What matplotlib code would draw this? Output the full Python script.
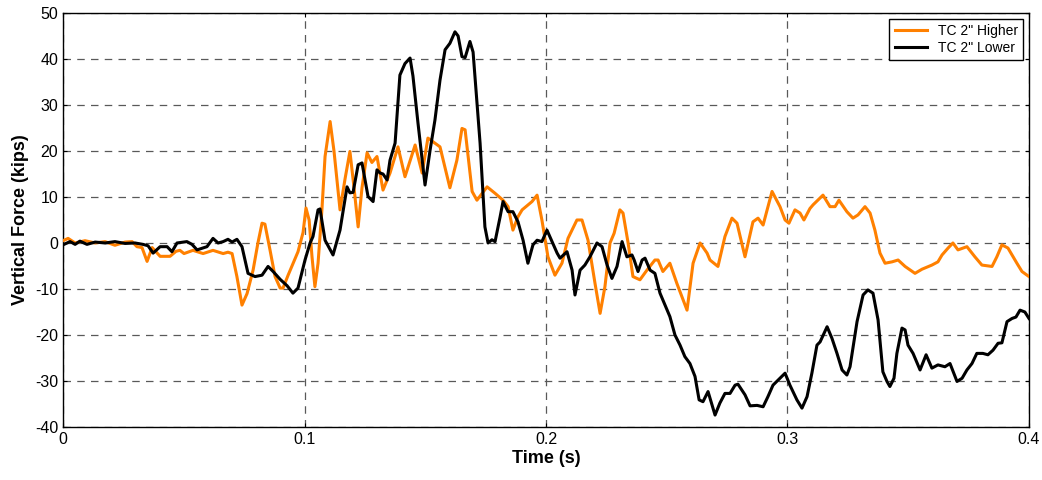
import matplotlib

matplotlib.use("Agg")
import matplotlib.pyplot as plt
import numpy as np

plt.rcParams["font.family"] = ["Liberation Sans", "DejaVu Sans"]
plt.rcParams["axes.unicode_minus"] = False

# TC 2" Higher (orange) — time (s), vertical force (kips)
t_high = [0.0000, 0.0021, 0.0050, 0.0091, 0.0133, 0.0174, 0.0215, 0.0257, 0.0286, 0.0306,
          0.0327, 0.0348, 0.0369, 0.0402, 0.0443, 0.0468, 0.0484, 0.0501, 0.0538, 0.0580,
          0.0621, 0.0663, 0.0683, 0.0700, 0.0720, 0.0741, 0.0762, 0.0787, 0.0807, 0.0824,
          0.0836, 0.0857, 0.0878, 0.0899, 0.0911, 0.0932, 0.0973, 0.0994, 0.1006, 0.1019,
          0.1031, 0.1043, 0.1056, 0.1072, 0.1085, 0.1106, 0.1122, 0.1147, 0.1168, 0.1188,
          0.1205, 0.1222, 0.1238, 0.1259, 0.1279, 0.1300, 0.1325, 0.1354, 0.1387, 0.1416,
          0.1458, 0.1487, 0.1511, 0.1561, 0.1602, 0.1631, 0.1652, 0.1665, 0.1694, 0.1714,
          0.1756, 0.1789, 0.1822, 0.1843, 0.1863, 0.1884, 0.1901, 0.1942, 0.1963, 0.1983,
          0.2008, 0.2037, 0.2066, 0.2091, 0.2128, 0.2149, 0.2174, 0.2203, 0.2224, 0.2244,
          0.2265, 0.2282, 0.2306, 0.2319, 0.2340, 0.2360, 0.2389, 0.2418, 0.2451, 0.2464,
          0.2484, 0.2513, 0.2542, 0.2584, 0.2609, 0.2638, 0.2667, 0.2679, 0.2712, 0.2741,
          0.2770, 0.2791, 0.2824, 0.2857, 0.2878, 0.2899, 0.2936, 0.2969, 0.2990, 0.3006,
          0.3031, 0.3052, 0.3068, 0.3093, 0.3106, 0.3147, 0.3176, 0.3197, 0.3213, 0.3246,
          0.3271, 0.3292, 0.3321, 0.3342, 0.3362, 0.3383, 0.3404, 0.3433, 0.3458, 0.3487,
          0.3528, 0.3557, 0.3598, 0.3623, 0.3640, 0.3665, 0.3685, 0.3706, 0.3743, 0.3776,
          0.3805, 0.3847, 0.3867, 0.3888, 0.3913, 0.3950, 0.3971, 0.4000]
f_high = [0.5, 1.0, 0.0, 0.5, 0.0, 0.3, -0.5, 0.2, 0.3, -0.8,
          -1.0, -4.0, -1.0, -2.9, -2.9, -1.8, -1.6, -2.3, -1.6, -2.3,
          -1.6, -2.3, -2.0, -2.3, -7.3, -13.5, -11.0, -5.9, 0.0, 4.3,
          4.1, -1.5, -7.3, -9.8, -9.8, -7.0, -1.9, 2.3, 7.6, 5.0,
          -3.0, -9.5, -4.4, 7.2, 18.8, 26.4, 20.0, 7.2, 14.0, 19.9,
          12.0, 3.5, 12.0, 19.6, 17.5, 18.8, 11.5, 15.2, 20.9, 14.4,
          21.3, 15.2, 22.8, 20.9, 12.0, 18.0, 24.9, 24.6, 11.2, 9.3,
          12.2, 10.8, 9.3, 7.9, 2.8, 5.7, 7.2, 9.0, 10.4, 5.0,
          -3.0, -7.0, -4.4, 1.0, 5.0, 5.0, 0.6, -8.8, -15.3, -9.5,
          0.0, 2.1, 7.2, 6.5, 0.0, -7.3, -8.0, -5.9, -3.7, -3.7,
          -6.2, -4.4, -8.8, -14.6, -4.4, 0.0, -2.2, -3.7, -5.1, 1.4,
          5.4, 4.3, -3.0, 4.6, 5.4, 3.9, 11.2, 7.9, 5.0, 4.3,
          7.2, 6.5, 5.0, 7.5, 8.3, 10.4, 7.9, 7.9, 9.3, 6.8,
          5.4, 6.1, 7.9, 6.5, 2.8, -2.2, -4.4, -4.1, -3.7, -5.1,
          -6.6, -5.7, -4.8, -4.1, -2.6, -1.1, 0.0, -1.5, -0.8, -3.0,
          -4.8, -5.1, -3.0, -0.4, -1.1, -4.4, -6.2, -7.3]

# TC 2" Lower (black)
t_low = [0.0000, 0.0029, 0.0050, 0.0070, 0.0099, 0.0133, 0.0174, 0.0215, 0.0257, 0.0298,
         0.0331, 0.0352, 0.0373, 0.0402, 0.0431, 0.0451, 0.0472, 0.0513, 0.0534, 0.0555,
         0.0596, 0.0621, 0.0642, 0.0663, 0.0683, 0.0700, 0.0720, 0.0741, 0.0766, 0.0795,
         0.0824, 0.0849, 0.0870, 0.0899, 0.0928, 0.0952, 0.0973, 0.1002, 0.1023, 0.1035,
         0.1056, 0.1064, 0.1085, 0.1118, 0.1147, 0.1176, 0.1188, 0.1201, 0.1222, 0.1238,
         0.1263, 0.1284, 0.1300, 0.1313, 0.1325, 0.1342, 0.1354, 0.1375, 0.1395, 0.1416,
         0.1437, 0.1449, 0.1470, 0.1499, 0.1520, 0.1540, 0.1561, 0.1582, 0.1602, 0.1623,
         0.1636, 0.1652, 0.1665, 0.1685, 0.1698, 0.1727, 0.1747, 0.1760, 0.1776, 0.1789,
         0.1810, 0.1822, 0.1843, 0.1863, 0.1884, 0.1905, 0.1925, 0.1946, 0.1963, 0.1983,
         0.2004, 0.2025, 0.2046, 0.2058, 0.2087, 0.2108, 0.2120, 0.2141, 0.2161, 0.2182,
         0.2211, 0.2232, 0.2253, 0.2273, 0.2294, 0.2315, 0.2335, 0.2356, 0.2365, 0.2381,
         0.2398, 0.2410, 0.2431, 0.2451, 0.2472, 0.2493, 0.2513, 0.2534, 0.2555, 0.2575,
         0.2596, 0.2617, 0.2634, 0.2650, 0.2671, 0.2700, 0.2720, 0.2741, 0.2762, 0.2783,
         0.2795, 0.2824, 0.2845, 0.2874, 0.2899, 0.2919, 0.2940, 0.2969, 0.2990, 0.3010,
         0.3039, 0.3060, 0.3081, 0.3101, 0.3122, 0.3135, 0.3164, 0.3184, 0.3205, 0.3226,
         0.3246, 0.3259, 0.3288, 0.3313, 0.3333, 0.3354, 0.3375, 0.3395, 0.3412, 0.3424,
         0.3441, 0.3453, 0.3474, 0.3487, 0.3499, 0.3520, 0.3549, 0.3574, 0.3598, 0.3623,
         0.3652, 0.3673, 0.3702, 0.3723, 0.3743, 0.3764, 0.3784, 0.3809, 0.3830, 0.3851,
         0.3872, 0.3888, 0.3909, 0.3930, 0.3946, 0.3963, 0.3983, 0.4000]
f_low = [-0.4, 0.3, -0.3, 0.4, -0.3, 0.2, 0.0, 0.3, -0.1, 0.0,
         -0.3, -0.6, -2.2, -0.8, -0.8, -1.9, 0.0, 0.3, -0.3, -1.5,
         -0.8, 1.0, 0.0, 0.3, 0.8, 0.2, 0.8, -0.8, -6.6, -7.3,
         -7.0, -5.1, -6.2, -7.9, -9.3, -10.9, -9.8, -3.7, 0.0, 1.4,
         7.2, 7.4, 0.6, -2.6, 2.8, 12.2, 10.9, 11.0, 17.0, 17.4,
         10.1, 9.0, 15.9, 15.2, 15.0, 13.7, 18.0, 21.7, 36.5, 39.0,
         40.2, 36.3, 26.0, 12.6, 20.2, 26.7, 35.4, 42.0, 43.4, 45.9,
         45.0, 40.5, 40.3, 43.8, 41.5, 21.7, 3.5, 0.0, 0.7, 0.3,
         5.7, 9.0, 6.8, 6.8, 4.6, 0.6, -4.4, -0.4, 0.6, 0.3,
         2.8, 0.3, -2.2, -3.3, -1.9, -5.9, -11.3, -5.9, -4.8, -3.0,
         0.0, -0.8, -4.8, -7.7, -5.1, 0.3, -3.0, -2.6, -3.7, -6.2,
         -3.7, -3.3, -5.9, -6.6, -10.9, -13.5, -16.0, -20.0, -22.2, -24.7,
         -26.2, -29.0, -34.1, -34.5, -32.3, -37.4, -34.8, -32.7, -32.7, -30.9,
         -30.7, -33.0, -35.4, -35.3, -35.6, -33.4, -30.9, -29.4, -28.3, -30.9,
         -34.1, -35.9, -33.4, -28.3, -22.2, -21.5, -18.2, -20.7, -24.0, -27.6,
         -28.7, -26.9, -17.1, -11.3, -10.2, -10.9, -16.7, -28.0, -30.1, -31.2,
         -29.4, -24.0, -18.5, -18.9, -22.2, -24.0, -27.6, -24.3, -27.2, -26.5,
         -26.9, -26.2, -30.1, -29.4, -27.6, -26.2, -24.0, -24.0, -24.3, -23.3,
         -21.8, -21.7, -17.1, -16.4, -16.1, -14.6, -15.0, -16.4]

x_ticks = [0, 0.1, 0.2, 0.3, 0.4]
x_labels = ["0", "0.1", "0.2", "0.3", "0.4"]
y_ticks = np.arange(-40, 51, 10)

fig = plt.figure(figsize=(10.42, 4.8), dpi=100)
ax = fig.add_axes([0.0605, 0.1104, 0.927, 0.8626])

ax.plot(t_high, f_high, color="#ff8000", lw=2.2, label='TC 2" Higher', zorder=3)
ax.plot(t_low, f_low, color="black", lw=2.2, label='TC 2" Lower', zorder=4)

ax.set_xlim(0, 0.4)
ax.set_ylim(-40, 50)
ax.set_xticks(x_ticks)
ax.set_xticklabels(x_labels)
ax.set_yticks(y_ticks)
ax.tick_params(direction="in", length=3, labelsize=11.5, top=True, right=True)
ax.grid(True, color="0.35", linestyle=(0, (6, 5)), lw=0.9)
for s in ax.spines.values():
    s.set_linewidth(1.0)

ax.set_xlabel("Time (s)", fontsize=13, fontweight="bold", labelpad=2)
ax.set_ylabel("Vertical Force (kips)", fontsize=13, fontweight="bold", labelpad=4)

leg = ax.legend(loc="upper right", fontsize=10, fancybox=False, framealpha=1,
                edgecolor="black", borderaxespad=0.4, handlelength=2.3, labelspacing=0.2)
leg.get_frame().set_linewidth(1.0)

fig.savefig("out.png", dpi=100)
